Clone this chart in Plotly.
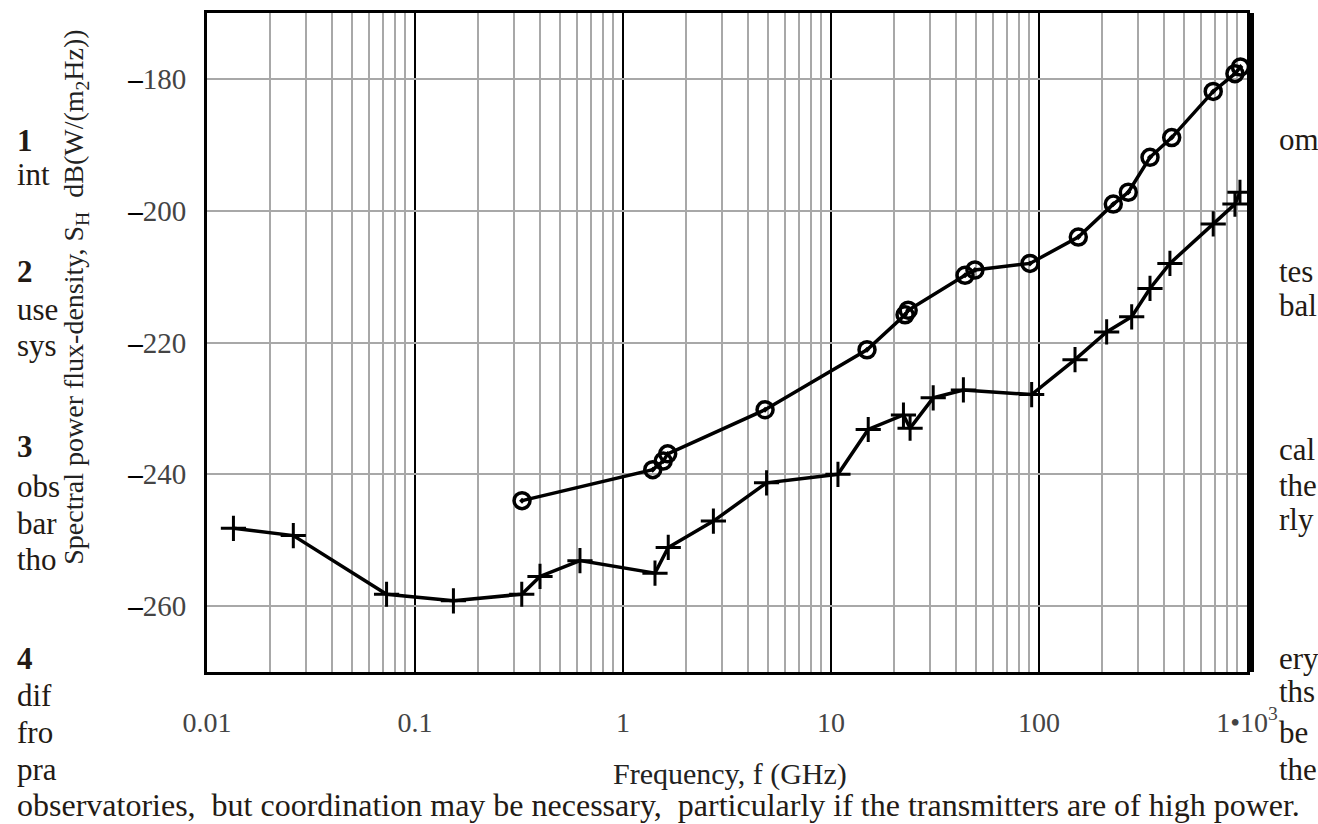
import plotly.graph_objects as go

# ---- data ----
cross_freq = [0.0134, 0.026, 0.073, 0.153, 0.326, 0.399, 0.621, 1.425, 1.65, 2.72, 4.9,
              10.8, 15.1, 22.3, 24.0, 31.0, 43.3, 92.2, 149, 211.5, 279, 341.7, 426,
              688, 875, 925]
cross_s = [-248.2, -249.3, -258.2, -259.2, -258.2, -255.5, -253.1, -255.0, -251.1, -247.1, -241.3,
           -240.0, -233.2, -231.0, -233.0, -228.4, -227.2, -227.9, -222.6, -218.4, -216.1, -211.8, -208.0,
           -202.0, -199.0, -197.2]

circle_freq = [0.327, 1.39, 1.56, 1.64, 4.82, 14.9, 22.7, 23.5, 44.1, 49.2, 90.5, 154.5,
               227.6, 268.7, 341.7, 434.5, 688, 875, 930]
circle_s = [-244.0, -239.3, -238.0, -236.9, -230.2, -221.1, -215.8, -215.1, -209.8, -209.0, -208.0, -204.0,
            -199.0, -197.2, -191.9, -188.9, -181.9, -179.2, -178.2]

x_tickvals = [0.01, 0.1, 1, 10, 100, 1000]
x_ticktext = ["0.01", "0.1", "1", "10", "100", "1\u202210<sup>3</sup>"]
x_minor = [m * 10 ** e for e in range(-2, 3) for m in range(2, 10)]

y_tickvals = [-260, -240, -220, -200, -180]
y_ticktext = ["<span style='color:#000'><b>\u2013</b></span>" + str(abs(v)) for v in y_tickvals]

x_title = "Frequency, f (GHz)"
y_title = "Spectral power flux-density, S<sub>H</sub>  dB(W/(m<sub>2</sub>Hz))"

# background page text fragments (pixel y of line centre)
left_text = [("<b>1</b>", 138), ("int", 172), ("<b>2</b>", 270), ("use", 308), ("sys", 344),
             ("<b>3</b>", 445), ("obs", 486), ("bar", 523), ("tho", 559),
             ("<b>4</b>", 658), ("dif", 696), ("fro", 733), ("pra", 770)]
right_text = [("om", 137), ("tes", 270), ("bal", 304), ("cal", 448), ("the", 485), ("rly", 519),
              ("ery", 658), ("ths", 692), ("be", 733), ("the", 770)]
bottom_line = "observatories,  but coordination may be necessary,  particularly if the transmitters are of high power."

W, H = 1318, 824
L, R, T, B = 207, 1247, 10, 672

def px(xp):
    return (xp - L) / (R - L)

def py(yp):
    return (B - yp) / (B - T)

serif = "Liberation Serif"
fig = go.Figure()
fig.add_trace(go.Scatter(x=cross_freq, y=cross_s, mode="lines+markers",
                         line=dict(color="black", width=3.5),
                         marker=dict(symbol="cross-thin-open", size=18, color="black",
                                     line=dict(color="black", width=3)),
                         showlegend=False))
fig.add_trace(go.Scatter(x=circle_freq, y=circle_s, mode="lines+markers",
                         line=dict(color="black", width=3.5),
                         marker=dict(symbol="circle-open-dot", size=16, color="black",
                                     line=dict(color="black", width=3.5)),
                         showlegend=False))
# invisible trace on right y axis to make thick right border
fig.add_trace(go.Scatter(x=[1], y=[-200], yaxis="y2", mode="markers",
                         marker=dict(opacity=0), showlegend=False, hoverinfo="skip"))

fig.update_layout(
    width=W, height=H,
    margin=dict(l=L, r=W - R, t=T, b=H - B),
    paper_bgcolor="white", plot_bgcolor="white",
    font=dict(family=serif, color="#333"),
    xaxis=dict(type="log", range=[-2, 3], tickvals=x_tickvals, ticktext=x_ticktext,
               showgrid=True, gridcolor="black", gridwidth=2,
               minor=dict(tickvals=x_minor, showgrid=True, gridcolor="#a8a8a8", gridwidth=2, ticks=""),
               showline=True, linecolor="black", linewidth=3, mirror=True,
               ticks="outside", ticklen=23, tickcolor="rgba(0,0,0,0)",
               tickfont=dict(family=serif, size=28, color="#444"), zeroline=False),
    yaxis=dict(range=[-270, -170], tickvals=y_tickvals, ticktext=y_ticktext,
               showgrid=True, gridcolor="#a8a8a8", gridwidth=2,
               showline=True, linecolor="black", linewidth=3, mirror=True,
               ticks="outside", ticklen=12, tickcolor="rgba(0,0,0,0)",
               tickfont=dict(family=serif, size=29, color="#444"), zeroline=False),
    yaxis2=dict(range=[-270, -170], overlaying="y", side="right", showgrid=False,
                showline=True, linecolor="black", linewidth=7, showticklabels=False,
                ticks="", zeroline=False),
)

ann = []
ann.append(dict(text=x_title, x=px(730), y=py(774), xref="paper", yref="paper",
                showarrow=False, xanchor="center", yanchor="middle",
                font=dict(family=serif, size=30, color="#222")))
ann.append(dict(text=y_title, x=px(76), y=py(296), xref="paper", yref="paper",
                showarrow=False, xanchor="center", yanchor="middle", textangle=-90,
                font=dict(family=serif, size=28, color="#222")))
body = dict(family=serif, size=31, color="#231a14")
for t, yy in left_text:
    ann.append(dict(text=t, x=px(15), y=py(yy), xref="paper", yref="paper", showarrow=False,
                    xanchor="left", yanchor="middle", font=body))
for t, yy in right_text:
    ann.append(dict(text=t, x=px(1277), y=py(yy), xref="paper", yref="paper", showarrow=False,
                    xanchor="left", yanchor="middle", font=body))
ann.append(dict(text=bottom_line, x=px(15), y=py(806), xref="paper", yref="paper", showarrow=False,
                xanchor="left", yanchor="middle",
                font=dict(family=serif, size=32, color="#231a14")))
fig.update_layout(annotations=ann)

fig.write_html("out.html", config={"displayModeBar": False},
               post_script="document.body.style.margin='0px';document.body.style.overflow='hidden';")
